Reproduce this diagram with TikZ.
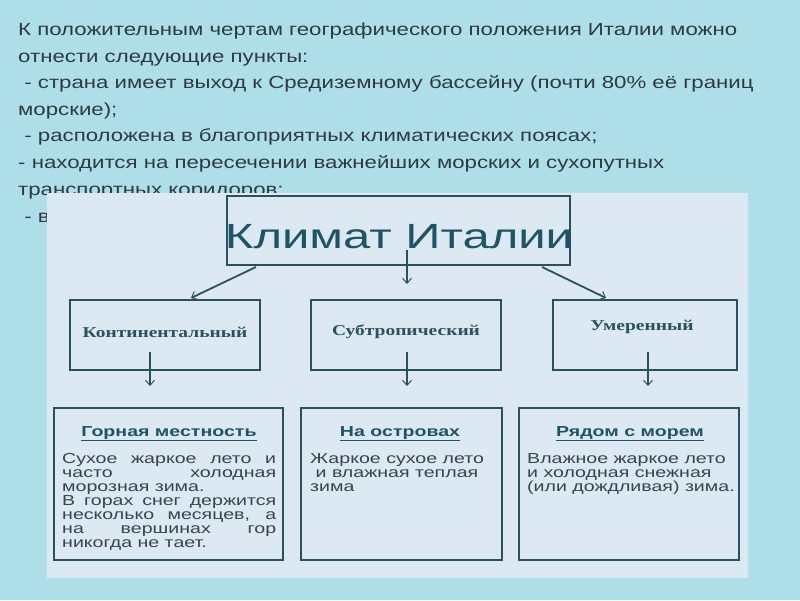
\documentclass[tikz,border=0pt]{standalone}
\usepackage{fontspec}
\usepackage{graphicx}
\usetikzlibrary{arrows.meta}
\setmainfont{Liberation Sans}
\newfontfamily\topfont[FakeStretch=1.27]{Liberation Sans}
\newfontfamily\titlefont[FakeStretch=1.40]{Liberation Sans}
\newfontfamily\midfont[FakeStretch=1.3]{Liberation Serif}
\newfontfamily\boxfont[FakeStretch=1.35]{Liberation Sans}
\definecolor{bgc}{HTML}{AEDFE9}
\definecolor{panelc}{HTML}{DDE9F2}
\definecolor{tealc}{HTML}{1D5566}
\definecolor{linec}{HTML}{28525D}
\definecolor{txtc}{HTML}{2E3A40}
\definecolor{bodyc}{HTML}{34454C}
\begin{document}
\begin{tikzpicture}[x=1pt,y=-1pt,
  topline/.style={anchor=base west,inner sep=0pt,text=txtc,font=\topfont\fontsize{17.5}{21}\selectfont},
  framebox/.style={draw=linec,line width=1.8pt},
  conn/.style={draw=linec,line width=1.8pt,-{Straight Barb[length=5pt,width=9pt,line width=1pt]}},
  midlabel/.style={inner sep=0pt,text=linec,font=\midfont\bfseries\fontsize{15}{18}\selectfont},
  headlabel/.style={anchor=base,inner sep=0pt,text=tealc,font=\boxfont\bfseries\fontsize{14.5}{17}\selectfont},
  bodyline/.style={anchor=base west,inner sep=0pt,text=bodyc,font=\boxfont\fontsize{14.5}{14}\selectfont}]
\useasboundingbox (0,0) rectangle (800,600);
\fill[bgc] (0,0) rectangle (800,600);
% top text
\node[topline] (t1) at (18,35) {К положительным чертам географического положения Италии можно};
\node[topline] (t2) at (18,62) {отнести следующие пункты:};
\node[topline] (t3) at (18,88) {\ - страна имеет выход к Средиземному бассейну (почти 80\% её границ};
\node[topline] (t4) at (18,115) {морские);};
\node[topline] (t5) at (18,141) {\ - расположена в благоприятных климатических поясах;};
\node[topline] (t6) at (18,168) {- находится на пересечении важнейших морских и сухопутных};
\node[topline] (t7) at (18,195) {транспортных коридоров;};
\node[topline] (t8) at (18,222) {\ - в};
% panel
\fill[panelc] (47,193) rectangle (748,578);
% title box
\draw[framebox] (227,196) rectangle (570,265);
\node[inner sep=0pt,anchor=base,text=tealc,font=\titlefont\fontsize{35}{40}\selectfont] (title) at (399,248) {Климат Италии};
\coordinate (tl) at (256,267);
\coordinate (tm) at (407,250);
\coordinate (tr) at (542,267);
% middle boxes
\draw[framebox] (70,300) rectangle (260,370);
\draw[framebox] (311,300) rectangle (501,370);
\draw[framebox] (553,300) rectangle (737,370);
\node[midlabel] (m1) at (165,332) {Континентальный};
\node[midlabel] (m2) at (406,332) {Субтропический};
\node[midlabel] (m3) at (642,327) {Умеренный};
\coordinate (a1) at (191,298);
\coordinate (a2) at (407,284);
\coordinate (a3) at (606,298);
\draw[conn] (tl) -- (a1);
\draw[conn] (tm) -- (a2);
\draw[conn] (tr) -- (a3);
\coordinate (d1s) at (150,352);
\coordinate (d1e) at (150,386);
\coordinate (d2s) at (407,352);
\coordinate (d2e) at (407,386);
\coordinate (d3s) at (648,352);
\coordinate (d3e) at (648,386);
\draw[conn] (d1s) -- (d1e);
\draw[conn] (d2s) -- (d2e);
\draw[conn] (d3s) -- (d3e);
% bottom boxes
\draw[framebox] (54,408) rectangle (283,560);
\draw[framebox] (301,408) rectangle (502,560);
\draw[framebox] (519,408) rectangle (739,560);
\node[headlabel] (h1) at (169,436) {\underline{Горная местность}};
\node[headlabel] (h2) at (400,436) {\underline{На островах}};
\node[headlabel] (h3) at (630,436) {\underline{Рядом с морем}};
\node[bodyline] (b11) at (62,463) {\makebox[214pt][s]{Сухое жаркое лето и}};
\node[bodyline] (b12) at (62,477) {\makebox[214pt][s]{часто холодная}};
\node[bodyline] (b13) at (62,491) {морозная зима.};
\node[bodyline] (b14) at (62,505) {\makebox[214pt][s]{В горах снег держится}};
\node[bodyline] (b15) at (62,519) {\makebox[214pt][s]{несколько месяцев, а}};
\node[bodyline] (b16) at (62,533) {\makebox[214pt][s]{на вершинах гор}};
\node[bodyline] (b17) at (62,547) {никогда не тает.};
\node[bodyline] (b21) at (310,463) {Жаркое сухое лето};
\node[bodyline] (b22) at (310,477) {\ и влажная теплая};
\node[bodyline] (b23) at (310,491) {зима};
\node[bodyline] (b31) at (527,463) {Влажное жаркое лето};
\node[bodyline] (b32) at (527,477) {и холодная снежная};
\node[bodyline] (b33) at (527,491) {(или дождливая) зима.};
\end{tikzpicture}
\end{document}
